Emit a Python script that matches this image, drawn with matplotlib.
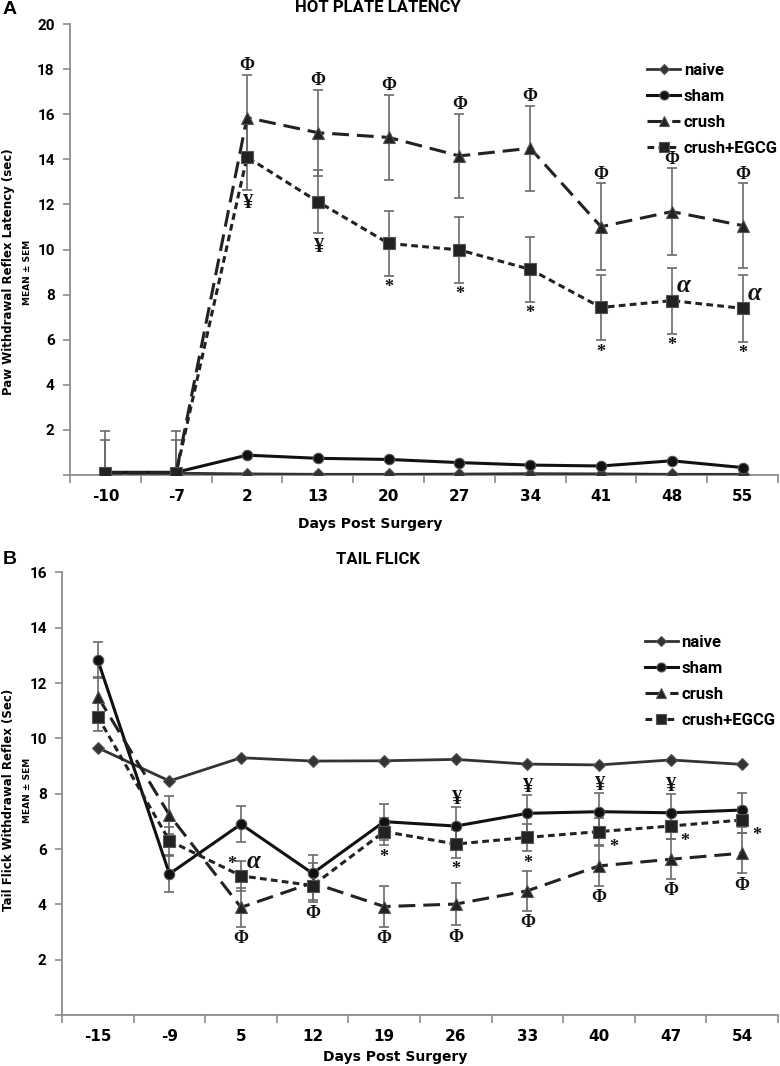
import matplotlib
matplotlib.use("Agg")
import matplotlib.pyplot as plt
from matplotlib.lines import Line2D
import numpy as np

# ---- panel A: hot plate latency ----
hp_days = ["-10", "-7", "2", "13", "20", "27", "34", "41", "48", "55"]
hp_naive = [0.08, 0.08, 0.05, 0.03, 0.03, 0.04, 0.06, 0.05, 0.03, 0.03]
hp_sham = [0.12, 0.12, 0.88, 0.74, 0.69, 0.55, 0.44, 0.40, 0.63, 0.33]
hp_crush = [0.10, 0.10, 15.85, 15.18, 14.97, 14.15, 14.49, 11.01, 11.68, 11.06]
hp_egcg = [0.10, 0.10, 14.10, 12.12, 10.27, 9.98, 9.12, 7.43, 7.73, 7.39]
hp_naive_err = [0.0] * 10
hp_sham_err = [0.0] * 10
hp_crush_err = [1.85, 1.87, 1.90, 1.90, 1.90, 1.88, 1.89, 1.93, 1.92, 1.88]
hp_egcg_err = [1.45, 1.45, 1.45, 1.40, 1.45, 1.45, 1.45, 1.45, 1.46, 1.47]

# ---- panel B: tail flick ----
tf_days = ["-15", "-9", "5", "12", "19", "26", "33", "40", "47", "54"]
tf_naive = [9.66, 8.46, 9.30, 9.18, 9.19, 9.24, 9.07, 9.04, 9.22, 9.06]
tf_sham = [12.83, 5.10, 6.90, 5.12, 6.99, 6.83, 7.29, 7.35, 7.31, 7.41]
tf_crush = [11.51, 7.23, 3.89, 4.78, 3.92, 4.01, 4.49, 5.39, 5.63, 5.85]
tf_egcg = [10.78, 6.30, 5.03, 4.68, 6.63, 6.18, 6.42, 6.63, 6.83, 7.05]
tf_naive_err = [0.0] * 10
tf_sham_err = [0.65, 0.65, 0.66, 0.66, 0.65, 0.70, 0.68, 0.67, 0.68, 0.63]
tf_crush_err = [0.72, 0.69, 0.70, 0.70, 0.74, 0.77, 0.73, 0.72, 0.72, 0.73]
tf_egcg_err = [0.50, 0.50, 0.54, 0.52, 0.50, 0.50, 0.50, 0.50, 0.48, 0.47]

groups = ["naive", "sham", "crush", "crush+EGCG"]

# significance marks: (symbol, group, placement, category indices)
hp_marks = [
    ("Φ", "crush", "above", [2, 3, 4, 5, 6, 7, 8, 9]),
    ("¥", "crush+EGCG", "below", [2, 3]),
    ("*", "crush+EGCG", "below", [4, 5, 6, 7, 8, 9]),
    ("α", "crush+EGCG", "upright", [8, 9]),
]
tf_marks = [
    ("Φ", "crush", "below", [2, 3, 4, 5, 6, 7, 8, 9]),
    ("¥", "sham", "ontop", [5, 6, 7, 8]),
    ("*", "crush+EGCG", "upleft", [2]),
    ("α", "crush+EGCG", "upright", [2]),
    ("*", "crush+EGCG", "below", [4, 5, 6]),
    ("*", "crush+EGCG", "right", [7, 8, 9]),
]

DARK = "#222222"
styles = {
    "naive": dict(marker="D", ms=6.5, ls="-", lw=2.0, color="#333333"),
    "sham": dict(marker="o", ms=7.5, ls="-", lw=2.2, color="#111111"),
    "crush": dict(marker="^", ms=8.5, ls=(0, (5.5, 2.6)), lw=2.2, color=DARK),
    "crush+EGCG": dict(marker="s", ms=8, ls=(0, (2.2, 1.4)), lw=2.2, color=DARK),
}
SERIF = ["Liberation Serif", "DejaVu Serif"]
NARROW = ["Liberation Sans Narrow", "DejaVu Sans"]
SANS = ["Roboto", "DejaVu Sans"]


def draw_panel(ax, days, series, errs, marks, ymax, legend_anchor):
    x = np.arange(len(days))
    u = ymax / 20.0
    for g in groups:
        ax.errorbar(x, series[g], yerr=errs[g], fmt="none", ecolor="#6a6a6a",
                    elinewidth=1.2, capsize=3.5, capthick=1.2, zorder=2)
    for g in groups:
        st = styles[g]
        ax.plot(x, series[g], linestyle=st["ls"], lw=st["lw"], color=st["color"],
                marker=st["marker"], ms=st["ms"], mfc=st["color"], mec="#555555",
                mew=0.8, zorder=3, label=g)

    for sym, g, where, idx in marks:
        vals = np.asarray(series[g])
        ee = np.asarray(errs[g])
        for i in idx:
            fs, style = 13, "normal"
            if sym == "α":
                fs, style = 18, "italic"
            elif sym == "¥":
                fs = 15
            if where == "above":
                xx, yy, va = i, vals[i] + ee[i] + 0.03 * u, "bottom"
            elif where == "ontop":
                xx, yy, va = i, vals[i] + ee[i] - 0.1 * u, "bottom"
            elif where == "below":
                xx, yy, va = i, vals[i] - ee[i] - 0.15 * u, "top"
            elif where == "upright":
                xx, yy, va = i + 0.17, vals[i] + 0.15 * u, "bottom"
            elif where == "upleft":
                xx, yy, va = i - 0.13, vals[i] + 0.15 * u, "bottom"
            else:  # right
                xx, yy, va = i + 0.2, vals[i] - 0.72 * u, "center"
            ax.text(xx, yy, sym, ha="center", va=va, fontsize=fs, fontweight="bold",
                    fontstyle=style, family=SERIF, color="#111111", zorder=4)

    ax.set_xlim(-0.5, len(days) - 0.5)
    ax.set_ylim(0, ymax)
    ax.set_xticks(x)
    ax.set_xticklabels(days, family=NARROW, fontweight="bold", fontsize=11)
    ax.set_xticks(np.arange(-0.5, len(days)), minor=True)
    ax.tick_params(axis="x", which="major", length=0, pad=10)
    ax.tick_params(axis="x", which="minor", length=6, width=1.2, color="#8c8c8c",
                   direction="out")
    yt = np.arange(0, ymax + 1, 2)
    ax.set_yticks(yt)
    ax.set_yticklabels([""] + [str(v) for v in yt[1:]], family=SANS,
                       fontweight="bold", fontsize=11)
    ax.tick_params(axis="y", length=5, width=1.2, color="#8c8c8c", pad=6)
    for s in ("top", "right"):
        ax.spines[s].set_visible(False)
    for s in ("left", "bottom"):
        ax.spines[s].set_color("#8c8c8c")
        ax.spines[s].set_linewidth(1.3)

    handles = []
    for g in groups:
        st = styles[g]
        handles.append(Line2D([], [], linestyle=st["ls"], lw=st["lw"], color=st["color"],
                              marker=st["marker"], ms=st["ms"] - 1, mfc=st["color"],
                              mec="#555555", mew=0.8))
    ax.legend(handles, groups, loc="upper left", bbox_to_anchor=legend_anchor,
              frameon=False, handlelength=2.0, handletextpad=0.2, labelspacing=0.65,
              borderpad=0, borderaxespad=0,
              prop=dict(family=SANS, weight="bold", size=12))


fig = plt.figure(figsize=(7.8, 10.66), dpi=100)
W, H = 780.0, 1066.0
axA = fig.add_axes([70 / W, 1 - 475 / H, 708 / W, 451 / H])
axB = fig.add_axes([62 / W, 1 - 1015 / H, 716 / W, 442.6 / H])

draw_panel(axA, hp_days,
           dict(zip(groups, [hp_naive, hp_sham, hp_crush, hp_egcg])),
           dict(zip(groups, [hp_naive_err, hp_sham_err, hp_crush_err, hp_egcg_err])),
           hp_marks, 20, (0.815, 0.913))
draw_panel(axB, tf_days,
           dict(zip(groups, [tf_naive, tf_sham, tf_crush, tf_egcg])),
           dict(zip(groups, [tf_naive_err, tf_sham_err, tf_crush_err, tf_egcg_err])),
           tf_marks, 16, (0.814, 0.858))

# titles, panel letters, axis labels
fig.text(378 / W, 1 - 8 / H, "HOT PLATE LATENCY", ha="center", va="center",
         family=SANS, fontweight="bold", fontsize=12)
fig.text(378 / W, 1 - 559 / H, "TAIL FLICK", ha="center", va="center",
         family=SANS, fontweight="bold", fontsize=12)
fig.text(10 / W, 1 - 10 / H, "A", ha="center", va="center",
         family=["Liberation Sans", "DejaVu Sans"], fontweight="bold", fontsize=14)
fig.text(10 / W, 1 - 559 / H, "B", ha="center", va="center",
         family=["Liberation Sans", "DejaVu Sans"], fontweight="bold", fontsize=14)

fig.text(370 / W, 1 - 524 / H, "Days Post Surgery", ha="center", va="center",
         family=NARROW, fontweight="bold", fontsize=10)
fig.text(395 / W, 1 - 1057 / H, "Days Post Surgery", ha="center", va="center",
         family=NARROW, fontweight="bold", fontsize=10)

fig.text(9 / W, 1 - 272 / H, "Paw Withdrawal Reflex Latency (sec)", rotation=90,
         ha="center", va="center", family="DejaVu Sans", fontweight="bold", fontsize=8.5)
fig.text(27 / W, 1 - 272 / H, "MEAN ± SEM", rotation=90, ha="center", va="center",
         family="DejaVu Sans", fontweight="bold", fontsize=6.5)
fig.text(9 / W, 1 - 800 / H, "Tail Flick Withdrawal Reflex (Sec)", rotation=90,
         ha="center", va="center", family="DejaVu Sans", fontweight="bold", fontsize=8.5)
fig.text(27 / W, 1 - 790 / H, "MEAN ± SEM", rotation=90, ha="center", va="center",
         family="DejaVu Sans", fontweight="bold", fontsize=6.5)

fig.savefig("out.png", dpi=100)
